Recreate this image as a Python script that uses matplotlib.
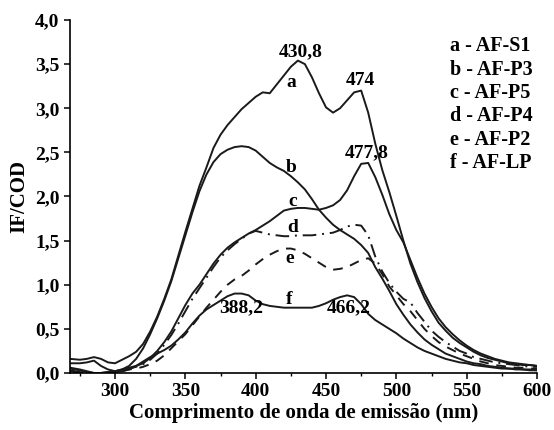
import numpy as np
import matplotlib
matplotlib.use("Agg")
import matplotlib.pyplot as plt
from matplotlib.ticker import MultipleLocator, FuncFormatter

# wavelength grid (nm) shared by all spectra
wl = [268, 275, 280, 285, 290, 295, 300, 305, 310, 315, 320, 325, 330, 335, 340,
      345, 350, 355, 360, 365, 370, 375, 380, 385, 390, 395, 400, 405, 410, 415,
      420, 425, 430, 435, 440, 445, 450, 455, 460, 465, 470, 475, 480, 485, 490,
      495, 500, 505, 510, 515, 520, 525, 530, 535, 540, 545, 550, 555, 560, 565,
      570, 575, 580, 585, 590, 595, 600]

# IF/COD values
af_s1 = [0.16, 0.15, 0.16, 0.18, 0.16, 0.12, 0.11, 0.15, 0.19, 0.24, 0.33, 0.47, 0.64, 0.84, 1.06,
         1.33, 1.60, 1.86, 2.12, 2.33, 2.55, 2.70, 2.81, 2.90, 2.99, 3.06, 3.13, 3.18, 3.17, 3.27,
         3.37, 3.47, 3.54, 3.50, 3.35, 3.17, 3.01, 2.95, 3.00, 3.09, 3.18, 3.20, 2.95, 2.60, 2.30,
         2.05, 1.78, 1.50, 1.24, 1.03, 0.85, 0.70, 0.57, 0.48, 0.40, 0.34, 0.29, 0.24, 0.20, 0.17,
         0.15, 0.13, 0.11, 0.10, 0.09, 0.09, 0.08]
af_p3 = [0.11, 0.11, 0.12, 0.14, 0.08, 0.04, 0.02, 0.04, 0.08, 0.16, 0.28, 0.44, 0.62, 0.82, 1.04,
         1.30, 1.56, 1.82, 2.06, 2.25, 2.39, 2.48, 2.53, 2.56, 2.57, 2.56, 2.52, 2.45, 2.38, 2.33,
         2.29, 2.23, 2.16, 2.08, 1.97, 1.85, 1.76, 1.68, 1.62, 1.57, 1.52, 1.45, 1.36, 1.20, 1.07,
         0.93, 0.78, 0.66, 0.55, 0.46, 0.38, 0.32, 0.27, 0.22, 0.19, 0.16, 0.13, 0.11, 0.10, 0.08,
         0.07, 0.06, 0.05, 0.05, 0.04, 0.04, 0.03]
af_p5 = [0.05, 0.03, 0.01, 0.00, 0.00, 0.01, 0.02, 0.04, 0.06, 0.08, 0.11, 0.17, 0.25, 0.35, 0.47,
         0.62, 0.77, 0.90, 1.00, 1.12, 1.24, 1.34, 1.42, 1.48, 1.53, 1.58, 1.62, 1.67, 1.72, 1.78,
         1.84, 1.86, 1.87, 1.87, 1.86, 1.85, 1.87, 1.90, 1.96, 2.07, 2.23, 2.37, 2.38, 2.22, 2.02,
         1.80, 1.62, 1.48, 1.28, 1.08, 0.90, 0.75, 0.62, 0.52, 0.44, 0.37, 0.31, 0.26, 0.22, 0.19,
         0.16, 0.14, 0.12, 0.11, 0.10, 0.09, 0.08]
af_p4 = [0.03, 0.01, 0.00, 0.00, 0.00, 0.01, 0.02, 0.03, 0.05, 0.07, 0.10, 0.15, 0.22, 0.32, 0.43,
         0.56, 0.70, 0.84, 0.96, 1.08, 1.20, 1.31, 1.39, 1.46, 1.52, 1.58, 1.61, 1.59, 1.57, 1.56,
         1.55, 1.55, 1.56, 1.56, 1.56, 1.57, 1.58, 1.59, 1.62, 1.66, 1.68, 1.67, 1.56, 1.32, 1.15,
         1.02, 0.92, 0.84, 0.80, 0.68, 0.58, 0.48, 0.41, 0.35, 0.30, 0.25, 0.22, 0.18, 0.16, 0.14,
         0.12, 0.11, 0.10, 0.09, 0.08, 0.07, 0.07]
af_p2 = [0.02, 0.00, 0.00, 0.00, 0.00, 0.00, 0.01, 0.02, 0.04, 0.05, 0.07, 0.10, 0.14, 0.20, 0.28,
         0.36, 0.44, 0.54, 0.64, 0.74, 0.83, 0.92, 1.00, 1.06, 1.10, 1.16, 1.23, 1.29, 1.34, 1.38,
         1.41, 1.41, 1.39, 1.35, 1.30, 1.25, 1.20, 1.17, 1.18, 1.20, 1.24, 1.28, 1.30, 1.24, 1.12,
         0.98, 0.88, 0.78, 0.70, 0.60, 0.50, 0.42, 0.35, 0.30, 0.26, 0.22, 0.19, 0.16, 0.13, 0.11,
         0.09, 0.08, 0.07, 0.06, 0.06, 0.05, 0.05]
af_lp = [0.06, 0.04, 0.02, 0.00, 0.00, 0.00, 0.01, 0.02, 0.04, 0.08, 0.13, 0.18, 0.22, 0.26, 0.31,
         0.38, 0.46, 0.56, 0.65, 0.72, 0.77, 0.82, 0.87, 0.90, 0.90, 0.88, 0.82, 0.78, 0.76, 0.75,
         0.74, 0.74, 0.74, 0.74, 0.74, 0.76, 0.79, 0.83, 0.86, 0.88, 0.86, 0.78, 0.67, 0.60, 0.55,
         0.50, 0.45, 0.39, 0.34, 0.29, 0.25, 0.22, 0.19, 0.16, 0.14, 0.12, 0.11, 0.09, 0.08, 0.07,
         0.06, 0.05, 0.05, 0.04, 0.04, 0.03, 0.03]

series = [af_s1, af_p3, af_p5, af_p4, af_p2, af_lp]
styles = ['-', '-', '-', (0, (7, 3, 1, 3)), (0, (5, 4)), '-']
letters = ['a', 'b', 'c', 'd', 'e', 'f']
names = ['AF-S1', 'AF-P3', 'AF-P5', 'AF-P4', 'AF-P2', 'AF-LP']
letter_pos = [(425, 3.29), (425, 2.33), (426, 1.94), (426.5, 1.65), (424.5, 1.30), (424, 0.83)]

peak_labels = ['430,8', '474', '477,8', '388,2', '466,2']
peak_pos = [(432, 3.64), (474.7, 3.32), (479, 2.50), (389.5, 0.74), (466, 0.74)]

plt.rcParams['font.family'] = ['Liberation Serif', 'DejaVu Serif']
plt.rcParams['font.weight'] = 'bold'

fig = plt.figure(figsize=(5.54, 4.30), dpi=100)
ax = fig.add_axes([0.1264, 0.1326, 0.9693 - 0.1264, 0.9535 - 0.1326])

for vals, ls in zip(series, styles):
    ax.plot(wl, vals, color='#1a1a1a', linestyle=ls, linewidth=1.4)

for lt, (x, y) in zip(letters, letter_pos):
    ax.text(x, y, lt, fontsize=14, fontweight='bold', ha='center', va='center')

for lab, (x, y) in zip(peak_labels, peak_pos):
    ax.text(x, y, lab, fontsize=14, fontweight='bold', ha='center', va='center')

# legend as a text block
for i, (lt, nm) in enumerate(zip(letters, names)):
    ax.text(0.814, 0.925 - i * 0.066, f"{lt} - {nm}", transform=ax.transAxes,
            fontsize=14.5, fontweight='bold', ha='left', va='center')

ax.set_xlim(268, 600)
ax.set_ylim(0, 4.0)
ax.xaxis.set_major_locator(MultipleLocator(50))
ax.xaxis.set_minor_locator(MultipleLocator(25))
ax.yaxis.set_major_locator(MultipleLocator(0.5))
ax.yaxis.set_major_formatter(FuncFormatter(lambda v, p: f"{v:.1f}".replace('.', ',')))

ax.spines['top'].set_visible(False)
ax.spines['right'].set_visible(False)
ax.spines['left'].set_linewidth(1.2)
ax.spines['bottom'].set_linewidth(1.2)
ax.tick_params(axis='both', which='major', direction='out', length=4, width=1.1, labelsize=14)
ax.tick_params(axis='x', which='minor', direction='out', length=2.5, width=1.0)

ax.set_xlabel("Comprimento de onda de emissão (nm)", fontsize=15, fontweight='bold', labelpad=2)
ax.set_ylabel("IF/COD", fontsize=15, fontweight='bold', labelpad=4)

fig.savefig("out.png", dpi=100)
